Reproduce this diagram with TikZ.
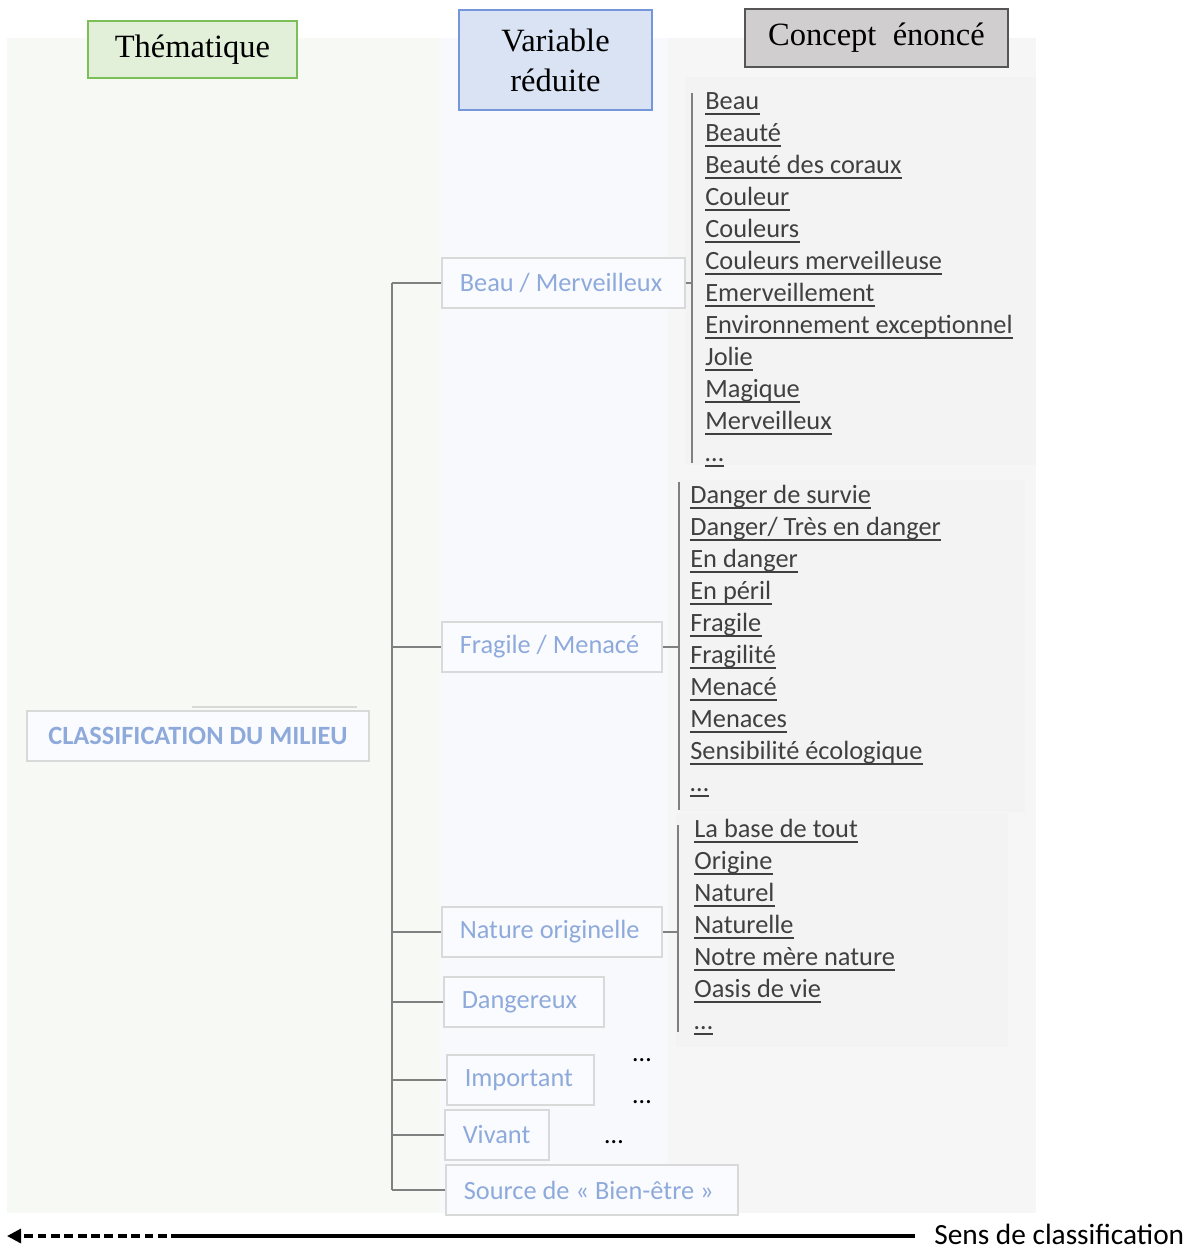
\documentclass[tikz,border=0pt]{standalone}
\usepackage{fontspec}
\setmainfont{Liberation Serif}
\newfontfamily\calibri{Carlito}
\usetikzlibrary{arrows.meta,calc}
\definecolor{themegreen}{HTML}{E2F0D9}
\definecolor{themeedge}{HTML}{7CBF59}
\definecolor{varfill}{HTML}{DAE3F3}
\definecolor{varedge}{HTML}{7596DB}
\definecolor{conceptfill}{HTML}{D0CECE}
\definecolor{conceptedge}{HTML}{555555}
\definecolor{panelgreen}{HTML}{F7F9F4}
\definecolor{panelblue}{HTML}{F7F9FD}
\definecolor{panelgrey}{HTML}{F6F6F6}
\definecolor{groupgrey}{HTML}{F3F3F3}
\definecolor{boxfill}{HTML}{FAFBFF}
\definecolor{boxedge}{HTML}{D9D9D9}
\definecolor{vartext}{HTML}{8EAADB}
\definecolor{wordtext}{HTML}{404040}
\definecolor{treegrey}{HTML}{808080}
\tikzset{
    classif diagram/.style = {x=0.02cm, y=-0.02cm},
    header/.style      = {draw, line width=0.9pt, align=center, inner sep=0pt,
                          font=\fontsize{18.5}{22.7}\selectfont},
    varbox/.style      = {draw=boxedge, line width=0.9pt, fill=boxfill,
                          text=vartext, anchor=west,
                          inner xsep=0.36cm, inner ysep=0pt, minimum height=1cm,
                          font=\calibri\fontsize{15}{18}\selectfont},
    rootbox/.style     = {varbox, anchor=center,
                          font=\calibri\bfseries\fontsize{15}{18}\selectfont},
    word/.style        = {text=wordtext, inner sep=0pt, anchor=base west,
                          font=\calibri\fontsize{15}{18}\selectfont},
    wordline/.style    = {draw=wordtext, line width=1.1pt},
    branch/.style      = {draw=treegrey, line width=0.7pt},
    bracket/.style     = {draw=treegrey, line width=0.7pt},
    more/.style        = {inner sep=0pt, anchor=base,
                          font=\calibri\fontsize{15}{18}\selectfont},
    sens/.style        = {inner sep=0pt, anchor=base west,
                          font=\calibri\fontsize{16.7}{20}\selectfont}
}
\newcommand{\variablebox}[5]{%
    \pgfmathsetmacro{\boxtw}{(#4-36)*0.02}%
    \node[varbox] (#1) at (#2,#3) {\makebox[\boxtw cm][l]{#5}};
}
\newcommand{\conceptlist}[4]{%
    \foreach \word [count=\k from 0] in {#4} {
        \node[word] (#1-\k) at (#2,#3+32*\k) {\word};
        \draw[wordline] ($(#1-\k.base west)+(0,5)$)
            -- ($(#1-\k.base east)+(0,5)$);
    }
}
\def\trunkx{392}

\begin{document}
\begin{tikzpicture}[classif diagram]
\useasboundingbox (0,0) rectangle (1195,1249);

% Column backgrounds and the tinted blocks behind each list of concepts.
\fill[panelgreen] (7,38) rectangle (440,1213);
\fill[panelblue] (440,38) rectangle (668,1213);
\fill[panelgrey] (668,38) rectangle (1036,1213);
\fill[groupgrey] (685,77) rectangle (1036,465);
\fill[groupgrey] (680,480) rectangle (1025,812);
\fill[groupgrey] (676,813) rectangle (1008,1047);

% Column headers.
\node[header, fill=themegreen, draw=themeedge, minimum width=4.18cm,
    minimum height=1.14cm] (thema) at (192.5,49.5) {Thématique};
\node[header, fill=varfill, draw=varedge, minimum width=3.86cm,
    minimum height=2cm] (varhead) at (555.5,60) {Variable\\réduite};
\node[header, fill=conceptfill, draw=conceptedge, minimum width=5.26cm,
    minimum height=1.16cm] (conchead) at (876.5,38) {Concept~~énoncé};

% Theme and reduced variables.
\draw[boxedge, line width=0.7pt] (192,707) -- (357,707);
\node[rootbox, minimum width=6.84cm] (milieu) at (198,736) {CLASSIFICATION DU MILIEU};
\variablebox{beau}{441}{283}{243}{Beau / Merveilleux}
\variablebox{frag}{441}{647}{220}{Fragile / Menacé}
\variablebox{nat}{441}{932}{220}{Nature originelle}
\variablebox{dang}{443}{1002}{160}{Dangereux}
\variablebox{imp}{446}{1080}{147}{Important}
\variablebox{viv}{444}{1135}{104}{Vivant}
\variablebox{src}{445}{1190}{292}{Source de «~Bien-être~»}

% Tree trunk with one branch per variable.
\coordinate (trunk) at (\trunkx,0);
\draw[branch] (trunk |- beau.west) -- (trunk |- src.west);
\foreach \v in {beau,frag,nat,dang,imp,viv,src}
    \draw[branch] (trunk |- \v.west) -- (\v.west);

% Concepts stated for each variable.
\conceptlist{beauw}{705}{109}{Beau, Beauté, Beauté des coraux, Couleur,
    Couleurs, Couleurs merveilleuse, Emerveillement,
    Environnement exceptionnel, Jolie, Magique, Merveilleux, …}
\conceptlist{fragw}{690}{503}{Danger de survie, Danger/ Très en danger,
    En danger, En péril, Fragile, Fragilité, Menacé, Menaces,
    Sensibilité écologique, …}
\conceptlist{natw}{694}{837}{La base de tout, Origine, Naturel, Naturelle,
    Notre mère nature, Oasis de vie, …}

% Brackets joining each variable to its concepts.
\coordinate (beau-top) at (692,93);
\coordinate (beau-bot) at (692,463);
\coordinate (frag-top) at (679,482);
\coordinate (frag-bot) at (679,810);
\coordinate (nat-top) at (678,825);
\coordinate (nat-bot) at (678,1032);
\foreach \v in {beau,frag,nat} {
    \draw[bracket] (\v-top) -- (\v-bot);
    \draw[bracket] (\v.east) -- (\v.east -| \v-top);
}
\node[more] (more-dang) at (642,1061) {…};
\node[more] (more-imp) at (642,1103) {…};
\node[more] (more-viv) at (614,1143) {…};

% Direction of classification.
\coordinate (sens-start) at (915,1236);
\coordinate (sens-mid) at (180,1236);
\coordinate (sens-tip) at (7,1236);
\draw[line width=2pt] (sens-start) -- (sens-mid);
\draw[line width=1.8pt, dash pattern=on 5pt off 2.6pt,
    -{Triangle[length=8pt,width=8pt]}] (sens-mid) -- (sens-tip);
\node[sens] (sens) at (934,1244) {Sens de classification};

\end{tikzpicture}
\end{document}
